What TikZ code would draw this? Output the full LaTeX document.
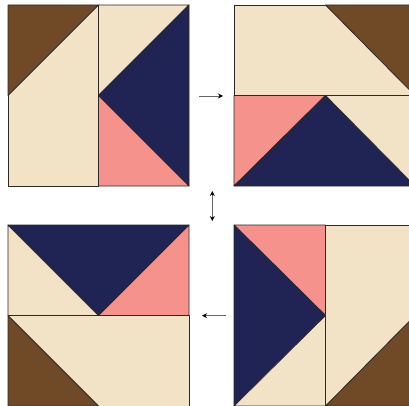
\documentclass[tikz,border=0pt]{standalone}
\usepackage{tikz}
\usetikzlibrary{arrows.meta,positioning}
\definecolor{quiltbrown}{RGB}{112,74,39}
\definecolor{quiltcream}{RGB}{243,227,198}
\definecolor{quiltnavy}{RGB}{31,36,84}
\definecolor{quiltpink}{RGB}{244,146,139}
\definecolor{seam}{RGB}{45,40,40}

\begin{document}
\begin{tikzpicture}[
    x=1pt, y=-1pt,
    patch/.style={draw=seam, line width=0.8pt, line join=round},
    turn/.style={gray!80!black, line width=0.9pt, -{Stealth[length=5pt,width=5pt,black]}},
    turnboth/.style={gray!80!black, line width=0.9pt, {Stealth[length=5pt,width=5pt,black]}-{Stealth[length=5pt,width=5pt,black]}}
]
\useasboundingbox (0,0) rectangle (409,406);
\clip (0,0) rectangle (409,406);
% block 1 (top left)
\fill[white] (0,0) rectangle (409,406);
\draw[patch, fill=quiltcream] (8,5) rectangle (98.5,186);
\draw[patch, fill=quiltbrown] (8,5) -- (98.5,5) -- (8,95.5) -- cycle;
\draw[patch, fill=quiltcream] (98.5,5) -- (189,5) -- (98.5,95.5) -- cycle;
\draw[patch, fill=quiltnavy] (189,5) -- (189,186) -- (98.5,95.5) -- cycle;
\draw[patch, fill=quiltpink] (98.5,95.5) -- (98.5,186) -- (189,186) -- cycle;
% block 2 (top right)
\draw[patch, fill=quiltcream] (234,5) rectangle (415,95.5);
\draw[patch, fill=quiltbrown] (325.5,5) -- (415,5) -- (415,95.5) -- cycle;
\draw[patch, fill=quiltpink] (234,95.5) -- (325.5,95.5) -- (234,186) -- cycle;
\draw[patch, fill=quiltnavy] (234,186) -- (325.5,95.5) -- (415,186) -- cycle;
\draw[patch, fill=quiltcream] (325.5,95.5) -- (415,95.5) -- (415,186) -- cycle;
% block 3 (bottom left)
\draw[patch, fill=quiltcream] (8,315.5) rectangle (189,406);
\draw[patch, fill=quiltbrown] (8,315.5) -- (8,406) -- (98.5,406) -- cycle;
\draw[patch, fill=quiltnavy] (8,225) -- (189,225) -- (98.5,315.5) -- cycle;
\draw[patch, fill=quiltcream] (8,225) -- (98.5,315.5) -- (8,315.5) -- cycle;
\draw[patch, fill=quiltpink] (189,225) -- (189,315.5) -- (98.5,315.5) -- cycle;
% block 4 (bottom right)
\draw[patch, fill=quiltcream] (325.5,225) rectangle (415,406);
\draw[patch, fill=quiltbrown] (325.5,406) -- (415,406) -- (415,315.5) -- cycle;
\draw[patch, fill=quiltpink] (234,225) -- (325.5,225) -- (325.5,315.5) -- cycle;
\draw[patch, fill=quiltnavy] (234,225) -- (325.5,315.5) -- (234,406) -- cycle;
\draw[patch, fill=quiltcream] (234,406) -- (325.5,315.5) -- (325.5,406) -- cycle;
% turning arrows
\coordinate (r1) at (199,96);
\coordinate (r2) at (223,96);
\coordinate (v1) at (212.3,191);
\coordinate (v2) at (212.3,221);
\coordinate (l1) at (226,315.7);
\coordinate (l2) at (202,315.7);
\draw[turn] (r1) -- (r2);
\draw[turnboth] (v1) -- (v2);
\draw[turn] (l1) -- (l2);
\end{tikzpicture}
\end{document}
